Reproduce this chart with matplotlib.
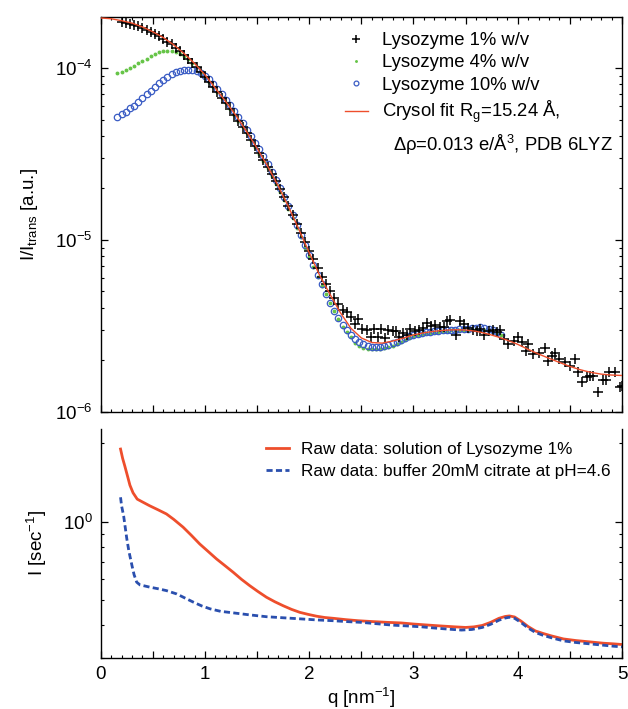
import matplotlib
matplotlib.use("Agg")
import matplotlib.pyplot as plt
from matplotlib.ticker import MultipleLocator, LogLocator, NullFormatter, FuncFormatter
import numpy as np

plt.rcParams['font.family'] = ['Liberation Sans', 'DejaVu Sans']
plt.rcParams['mathtext.fontset'] = 'custom'
plt.rcParams['mathtext.rm'] = 'Liberation Sans'
plt.rcParams['mathtext.it'] = 'Liberation Sans:italic'
plt.rcParams['mathtext.bf'] = 'Liberation Sans:bold'

# ---------------- top panel data ----------------
q_1pct = [0.20, 0.24, 0.28, 0.32, 0.36, 0.40, 0.44, 0.48, 0.52, 0.56, 0.60, 0.64, 0.68, 0.72,
          0.76, 0.80, 0.84, 0.88, 0.92, 0.96, 1.00, 1.04, 1.08, 1.12, 1.16, 1.20, 1.24, 1.28,
          1.32, 1.36, 1.40, 1.44, 1.48, 1.52, 1.56, 1.60, 1.64, 1.68, 1.72, 1.76, 1.80, 1.84,
          1.88, 1.92, 1.96, 2.00, 2.04, 2.08, 2.12, 2.16, 2.20, 2.24, 2.28, 2.32, 2.36,
          2.40, 2.44, 2.47, 2.51, 2.55, 2.59, 2.62, 2.66, 2.69, 2.73, 2.76, 2.80, 2.83, 2.86,
          2.90, 2.94, 2.97, 3.01, 3.05, 3.09, 3.13, 3.17, 3.21, 3.25, 3.29, 3.32, 3.35, 3.41,
          3.45, 3.48, 3.52, 3.57, 3.61, 3.64, 3.68, 3.72, 3.76, 3.80, 3.83, 3.87, 3.91, 3.96,
          4.00, 4.04, 4.08, 4.10, 4.15, 4.20, 4.26, 4.29, 4.33, 4.36, 4.40, 4.45, 4.50, 4.55,
          4.58, 4.62, 4.66, 4.69, 4.72, 4.77, 4.82, 4.85, 4.88, 4.93, 4.98, 5.00]
I_1pct = [1.85e-4, 1.83e-4, 1.80e-4, 1.77e-4, 1.74e-4, 1.71e-4, 1.67e-4, 1.62e-4, 1.58e-4,
          1.53e-4, 1.48e-4, 1.42e-4, 1.37e-4, 1.31e-4, 1.25e-4, 1.19e-4, 1.13e-4, 1.07e-4,
          1.01e-4, 9.5e-5, 8.9e-5, 8.3e-5, 7.75e-5, 7.2e-5, 6.7e-5, 6.2e-5, 5.75e-5, 5.3e-5,
          4.9e-5, 4.5e-5, 4.15e-5, 3.8e-5, 3.5e-5, 3.2e-5, 2.9e-5, 2.65e-5, 2.4e-5, 2.18e-5,
          1.97e-5, 1.77e-5, 1.58e-5, 1.40e-5, 1.24e-5, 1.10e-5, 9.7e-6, 8.6e-6, 7.7e-6,
          6.8e-6, 6.1e-6, 5.5e-6, 5.0e-6, 4.6e-6, 4.2e-6, 3.9e-6, 3.8e-6,
          3.55e-6, 3.21e-6, 3.45e-6, 3.02e-6, 2.98e-6, 2.72e-6, 3.02e-6, 2.72e-6, 3.02e-6,
          2.68e-6, 2.98e-6, 2.95e-6, 2.95e-6, 2.72e-6, 2.85e-6, 2.80e-6, 3.02e-6, 2.95e-6,
          2.98e-6, 3.05e-6, 3.26e-6, 3.16e-6, 3.20e-6, 3.09e-6, 3.10e-6, 3.35e-6, 3.41e-6,
          2.79e-6, 3.35e-6, 3.21e-6, 3.05e-6, 2.98e-6, 2.95e-6, 3.02e-6, 2.79e-6, 2.95e-6,
          2.97e-6, 2.90e-6, 2.98e-6, 2.65e-6, 2.47e-6, 2.58e-6, 2.70e-6, 2.53e-6, 2.24e-6,
          2.47e-6, 2.16e-6, 2.20e-6, 2.34e-6, 1.98e-6, 2.10e-6, 2.19e-6, 2.03e-6, 1.93e-6,
          1.84e-6, 2.03e-6, 1.70e-6, 1.48e-6, 1.58e-6, 1.60e-6, 1.61e-6, 1.29e-6, 1.52e-6,
          1.52e-6, 1.70e-6, 1.70e-6, 1.38e-6, 1.40e-6]

q_conc = [0.16, 0.20, 0.24, 0.28, 0.32, 0.36, 0.40, 0.44, 0.48, 0.52, 0.56, 0.60, 0.64, 0.68,
          0.72, 0.76, 0.80, 0.84, 0.88, 0.92, 0.96, 1.00, 1.04, 1.08, 1.12, 1.16, 1.20, 1.24,
          1.28, 1.32, 1.36, 1.40, 1.44, 1.48, 1.52, 1.56, 1.60, 1.64, 1.68, 1.72, 1.76, 1.80,
          1.84, 1.88, 1.92, 1.96, 2.00, 2.04, 2.08, 2.12, 2.16, 2.20, 2.24, 2.28, 2.32, 2.36,
          2.40, 2.44, 2.48, 2.52, 2.56, 2.60, 2.64, 2.68, 2.72, 2.76, 2.80, 2.84, 2.88, 2.92,
          2.96, 3.00, 3.04, 3.08, 3.12, 3.16, 3.20, 3.24, 3.28, 3.32, 3.36, 3.40, 3.44, 3.48,
          3.52, 3.56, 3.60, 3.64, 3.68, 3.72, 3.76, 3.80, 3.84]
I_4pct = [9.3e-5, 9.5e-5, 9.75e-5, 1.00e-4, 1.03e-4, 1.07e-4, 1.10e-4, 1.13e-4, 1.17e-4,
          1.20e-4, 1.23e-4, 1.25e-4, 1.26e-4, 1.26e-4, 1.24e-4, 1.21e-4, 1.17e-4, 1.12e-4,
          1.07e-4, 1.01e-4, 9.5e-5, 8.9e-5, 8.3e-5, 7.75e-5, 7.2e-5, 6.7e-5, 6.2e-5, 5.75e-5,
          5.3e-5, 4.9e-5, 4.5e-5, 4.15e-5, 3.8e-5, 3.45e-5, 3.15e-5, 2.85e-5, 2.6e-5, 2.35e-5,
          2.12e-5, 1.9e-5, 1.7e-5, 1.5e-5, 1.33e-5, 1.17e-5, 1.03e-5, 9.0e-6, 7.9e-6, 6.9e-6,
          6.1e-6, 5.4e-6, 4.8e-6, 4.3e-6, 3.85e-6, 3.45e-6, 3.1e-6, 2.9e-6, 2.7e-6, 2.52e-6,
          2.42e-6, 2.35e-6, 2.31e-6, 2.30e-6, 2.30e-6, 2.31e-6, 2.33e-6, 2.36e-6, 2.42e-6,
          2.48e-6, 2.55e-6, 2.62e-6, 2.68e-6, 2.74e-6, 2.78e-6, 2.82e-6, 2.86e-6, 2.88e-6,
          2.90e-6, 2.92e-6, 2.94e-6, 2.96e-6, 2.97e-6, 2.98e-6, 2.99e-6, 3.00e-6, 3.00e-6,
          3.01e-6, 3.02e-6, 3.00e-6, 2.98e-6, 2.95e-6, 2.92e-6, 2.86e-6, 2.78e-6]
I_10pct = [5.2e-5, 5.35e-5, 5.55e-5, 5.8e-5, 6.0e-5, 6.3e-5, 6.65e-5, 7.0e-5, 7.35e-5,
           7.75e-5, 8.15e-5, 8.5e-5, 8.85e-5, 9.15e-5, 9.4e-5, 9.6e-5, 9.7e-5, 9.75e-5,
           9.7e-5, 9.55e-5, 9.3e-5, 8.95e-5, 8.55e-5, 8.05e-5, 7.5e-5, 7.0e-5, 6.5e-5,
           6.05e-5, 5.6e-5, 5.15e-5, 4.75e-5, 4.35e-5, 4.0e-5, 3.65e-5, 3.35e-5, 3.05e-5,
           2.75e-5, 2.48e-5, 2.23e-5, 2.0e-5, 1.78e-5, 1.58e-5, 1.39e-5, 1.22e-5, 1.07e-5,
           9.3e-6, 8.1e-6, 7.1e-6, 6.2e-6, 5.5e-6, 4.85e-6, 4.3e-6, 3.85e-6, 3.5e-6, 3.2e-6,
           2.98e-6, 2.8e-6, 2.65e-6, 2.55e-6, 2.46e-6, 2.4e-6, 2.37e-6, 2.36e-6, 2.38e-6,
           2.4e-6, 2.45e-6, 2.5e-6, 2.55e-6, 2.62e-6, 2.68e-6, 2.74e-6, 2.79e-6, 2.83e-6,
           2.87e-6, 2.9e-6, 2.92e-6, 2.94e-6, 2.96e-6, 2.97e-6, 2.98e-6, 2.99e-6, 3.0e-6,
           3.01e-6, 3.02e-6, 3.04e-6, 3.06e-6, 3.08e-6, 3.09e-6, 3.07e-6, 3.03e-6, 2.99e-6,
           2.9e-6, 2.79e-6]

q_fit = [0.0, 0.1, 0.2, 0.3, 0.4, 0.5, 0.6, 0.7, 0.8, 0.9, 1.0, 1.1, 1.2, 1.3, 1.4, 1.5, 1.6,
         1.7, 1.8, 1.9, 2.0, 2.1, 2.2, 2.3, 2.4, 2.5, 2.6, 2.7, 2.8, 2.9, 3.0, 3.1, 3.2, 3.3,
         3.4, 3.5, 3.6, 3.7, 3.8, 3.9, 4.0, 4.1, 4.2, 4.3, 4.4, 4.5, 4.6, 4.7, 4.8, 4.9, 5.0]
I_fit = [1.95e-4, 1.93e-4, 1.88e-4, 1.82e-4, 1.73e-4, 1.62e-4, 1.50e-4, 1.36e-4, 1.21e-4,
         1.06e-4, 9.1e-5, 7.6e-5, 6.35e-5, 5.25e-5, 4.25e-5, 3.4e-5, 2.68e-5, 2.07e-5,
         1.56e-5, 1.15e-5, 8.4e-6, 6.2e-6, 4.8e-6, 3.75e-6, 3.05e-6, 2.68e-6, 2.52e-6,
         2.5e-6, 2.57e-6, 2.67e-6, 2.79e-6, 2.87e-6, 2.93e-6, 2.97e-6, 2.99e-6, 2.98e-6,
         2.93e-6, 2.84e-6, 2.73e-6, 2.6e-6, 2.46e-6, 2.3e-6, 2.16e-6, 2.04e-6, 1.93e-6,
         1.83e-6, 1.75e-6, 1.69e-6, 1.65e-6, 1.63e-6, 1.62e-6]

# ---------------- bottom panel data ----------------
q_sol = [0.19, 0.21, 0.23, 0.26, 0.28, 0.31, 0.35, 0.40, 0.47, 0.55, 0.63, 0.70, 0.79, 0.87,
         0.95, 1.03, 1.11, 1.19, 1.27, 1.35, 1.43, 1.51, 1.59, 1.67, 1.75, 1.83, 1.91, 1.99,
         2.07, 2.15, 2.23, 2.35, 2.47, 2.60, 2.75, 2.88, 3.00, 3.15, 3.27, 3.40, 3.50, 3.58,
         3.66, 3.74, 3.82, 3.88, 3.92, 3.97, 4.03, 4.10, 4.17, 4.24, 4.32, 4.44, 4.56, 4.69,
         4.82, 4.92, 5.00]
I_sol = [1.90, 1.75, 1.64, 1.48, 1.38, 1.29, 1.22, 1.19, 1.15, 1.11, 1.07, 1.02, 0.952, 0.885,
         0.82, 0.768, 0.719, 0.678, 0.639, 0.60, 0.567, 0.538, 0.512, 0.492, 0.475, 0.46,
         0.448, 0.44, 0.433, 0.428, 0.425, 0.42, 0.416, 0.413, 0.41, 0.408, 0.404, 0.40,
         0.397, 0.394, 0.392, 0.394, 0.399, 0.41, 0.425, 0.432, 0.434, 0.43, 0.415, 0.395,
         0.38, 0.372, 0.364, 0.354, 0.349, 0.345, 0.341, 0.339, 0.337]

q_buf = [0.19, 0.20, 0.22, 0.235, 0.25, 0.27, 0.30, 0.32, 0.345, 0.377, 0.42, 0.47, 0.55, 0.63,
         0.73, 0.81, 0.89, 0.97, 1.05, 1.15, 1.27, 1.43, 1.59, 1.75, 1.91, 2.07, 2.23, 2.35,
         2.50, 2.65, 2.80, 2.95, 3.08, 3.20, 3.34, 3.46, 3.56, 3.66, 3.74, 3.82, 3.88, 3.92,
         3.97, 4.03, 4.10, 4.17, 4.24, 4.32, 4.44, 4.56, 4.69, 4.82, 4.92, 5.00]
I_buf = [1.24, 1.15, 1.05, 0.95, 0.86, 0.77, 0.677, 0.625, 0.585, 0.571, 0.566, 0.56, 0.552,
         0.543, 0.527, 0.508, 0.49, 0.474, 0.462, 0.452, 0.446, 0.438, 0.431, 0.427, 0.423,
         0.419, 0.416, 0.413, 0.41, 0.405, 0.40, 0.397, 0.394, 0.39, 0.386, 0.383, 0.385,
         0.392, 0.403, 0.418, 0.426, 0.429, 0.425, 0.41, 0.39, 0.375, 0.366, 0.358, 0.348,
         0.343, 0.339, 0.335, 0.332, 0.33]

RED = '#ee4e2c'
BLUE = '#2a4fae'
GREEN = '#66c447'

fig = plt.figure(figsize=(6.28, 7.09), dpi=100)
ax1 = fig.add_axes([0.1604, 0.4196, 0.830, 0.5564])
ax2 = fig.add_axes([0.1604, 0.0724, 0.830, 0.3226])

# ---- top ----
ax1.plot(q_1pct, I_1pct, linestyle='none', marker='+', color='black', markersize=7.5,
         markeredgewidth=1.1, label='Lysozyme 1% w/v', zorder=3)
ax1.plot(q_conc, I_4pct, linestyle='none', marker='o', color=GREEN, markersize=2.8,
         markeredgewidth=0, label='Lysozyme 4% w/v', zorder=2)
ax1.plot(q_conc, I_10pct, linestyle='none', marker='o', markerfacecolor='none',
         markeredgecolor='#3a5cc4', markersize=4.6, markeredgewidth=0.9,
         label='Lysozyme 10% w/v', zorder=2)
ax1.plot(q_fit, I_fit, color=RED, linewidth=1.0,
         label='Crysol fit R$_\\mathregular{g}$=15.24 Å,', zorder=4)
ax1.set_yscale('log')
ax1.set_xlim(0, 5)
ax1.set_ylim(1e-6, 1.975e-4)
ax1.set_ylabel('I/I$_\\mathregular{trans}$ [a.u.]', fontsize=13.5, labelpad=11)
ax1.tick_params(labelbottom=False)
handles, labels = ax1.get_legend_handles_labels()
ax1.legend(handles, labels, loc='upper left', bbox_to_anchor=(0.468, 0.962), frameon=False,
           fontsize=13.3, handlelength=1.25, handletextpad=0.75,
           labelspacing=0.29, borderaxespad=0.0, borderpad=0.0, markerscale=0.75)
ax1.text(0.982, 0.675, 'Δρ=0.013 e/Å$^\\mathregular{3}$, PDB 6LYZ', transform=ax1.transAxes,
         ha='right', va='center', fontsize=13.3)

# ---- bottom ----
ax2.plot(q_sol, I_sol, color=RED, linewidth=2.0, label='Raw data: solution of Lysozyme 1%')
ax2.plot(q_buf, I_buf, color=BLUE, linewidth=2.0, linestyle=(0, (2.2, 1.2)),
         label='Raw data: buffer 20mM citrate at pH=4.6')
ax2.set_yscale('log')
ax2.set_xlim(0, 5)
ax2.set_ylim(0.3, 2.27)
ax2.set_ylabel('I [sec$^\\mathregular{-1}$]', fontsize=13.5, labelpad=10)
ax2.set_xlabel('q [nm$^\\mathregular{-1}$]', fontsize=13.5, labelpad=2)
ax2.legend(loc='upper left', bbox_to_anchor=(0.318, 0.942), frameon=False, fontsize=12.3,
           handlelength=1.3, handletextpad=0.7, labelspacing=0.42, borderaxespad=0.0,
           borderpad=0.0)
ax2.spines['top'].set_visible(False)

def xfmt(v, pos):
    return '%d' % round(v) if abs(v - round(v)) < 1e-6 else ''

for ax in (ax1, ax2):
    ax.xaxis.set_major_locator(MultipleLocator(0.5))
    ax.xaxis.set_minor_locator(MultipleLocator(0.1))
    ax.xaxis.set_major_formatter(FuncFormatter(xfmt))
    ax.yaxis.set_major_locator(LogLocator(base=10, numticks=10))
    ax.yaxis.set_minor_locator(LogLocator(base=10, subs=np.arange(2, 10) * 1.0, numticks=20))
    ax.yaxis.set_minor_formatter(NullFormatter())
    for s in ax.spines.values():
        s.set_linewidth(1.0)
    ax.tick_params(which='major', direction='in', length=5, width=0.9, labelsize=13.5, pad=6)
    ax.tick_params(which='minor', direction='in', length=2.5, width=0.8)

ax1.tick_params(which='both', top=True, right=True)
ax2.tick_params(which='both', top=False, right=True)

fig.savefig('out.png', dpi=100)
